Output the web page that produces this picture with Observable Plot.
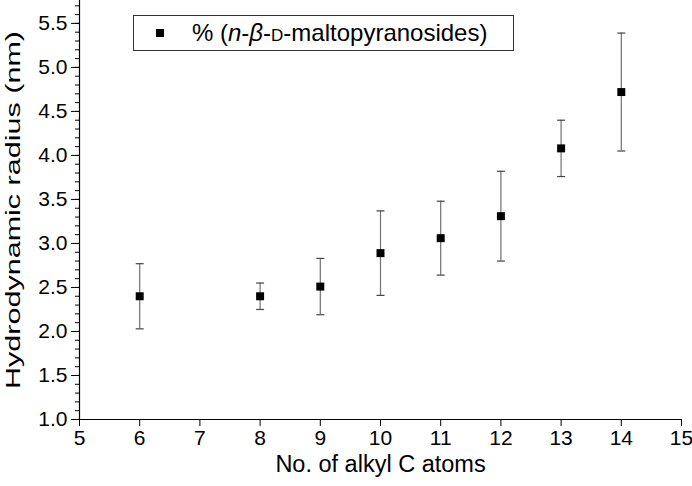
<!DOCTYPE html>
<html>
<head>
<meta charset="utf-8">
<script src="https://cdn.jsdelivr.net/npm/d3@7"></script>
<script src="https://cdn.jsdelivr.net/npm/@observablehq/plot@0.6"></script>
<style>
  html, body { margin: 0; padding: 0; background: #fff; }
  #wrap { position: relative; width: 692px; height: 486px; font-family: "Liberation Sans", Arial, sans-serif; }
  #legend { position: absolute; left: 133px; top: 15px; width: 381px; height: 36px; border: 1px solid #333; background: #fff;
            font-size: 24px; color: #000; box-sizing: border-box; }
  #legend .sw { position: absolute; left: 22px; top: 13px; width: 8px; height: 8px; background: #000; }
  #legend .tx { position: absolute; left: 58px; top: 4px; white-space: nowrap; line-height: 26px; }
</style>
</head>
<body>
<div id="wrap"></div>
<script>
// Data
const carbonAtoms = [6, 8, 9, 10, 11, 12, 13, 14];
const radius      = [2.40, 2.40, 2.51, 2.89, 3.06, 3.31, 4.08, 4.72];
const radiusError = [0.37, 0.15, 0.32, 0.48, 0.42, 0.51, 0.32, 0.67];
const xTicks = [5, 6, 7, 8, 9, 10, 11, 12, 13, 14, 15];
const yTicks = [1.0, 1.5, 2.0, 2.5, 3.0, 3.5, 4.0, 4.5, 5.0, 5.5];
const yMinorTicks = d3.range(10, 58).map(v => v / 10);
const seriesName = "% (n-β-D-maltopyranosides)";
const xTitle = "No. of alkyl C atoms";
const yTitle = "Hydrodynamic radius (nm)";

const data = carbonAtoms.map((c, i) => ({
  x: c, y: radius[i], lo: radius[i] - radiusError[i], hi: radius[i] + radiusError[i]
}));

const capSymbol = {
  draw(ctx, size) {
    const w = Math.sqrt(size / Math.PI);
    ctx.moveTo(-w, 0);
    ctx.lineTo(w, 0);
  }
};

const chart = Plot.plot({
  width: 692,
  height: 486,
  marginLeft: 79,
  marginRight: 11,
  marginTop: 0,
  marginBottom: 67,
  style: { fontFamily: "Liberation Sans, Arial, sans-serif", fontSize: "21px", color: "#000", background: "#fff" },
  x: { domain: [5, 15] },
  y: { domain: [1.0, 5.76] },
  marks: [
    Plot.axisY(yMinorTicks, { tickSize: 4, text: null, label: null, strokeWidth: 1 }),
    Plot.axisY(yTicks, { tickSize: 8, tickPadding: 4, tickFormat: d3.format(".1f"), fontSize: 21,
      label: yTitle, labelAnchor: "center", labelOffset: 74, labelArrow: "none" }),
    Plot.axisX(xTicks, { tickSize: 7, tickPadding: 4, fontSize: 21,
      label: xTitle, labelAnchor: "center", labelOffset: 52, labelArrow: "none" }),
    Plot.ruleX([5], { stroke: "#000", strokeWidth: 1.2 }),
    Plot.ruleY([1.0], { stroke: "#000", strokeWidth: 1.2 }),
    Plot.ruleX(data, { x: "x", y1: "lo", y2: "hi", stroke: "#707070", strokeWidth: 1.2 }),
    Plot.dot(data, { x: "x", y: "lo", symbol: capSymbol, r: 4, stroke: "#444", strokeWidth: 1.2 }),
    Plot.dot(data, { x: "x", y: "hi", symbol: capSymbol, r: 4, stroke: "#444", strokeWidth: 1.2 }),
    Plot.dot(data, { x: "x", y: "y", symbol: "square", r: 4.5, fill: "#000", stroke: "none" })
  ]
});

// Axis titles: larger font; y title is drawn wide as in the reference
d3.select(chart).selectAll('[aria-label="x-axis label"] text').style("font-size", "23.5px");
d3.select(chart).selectAll('[aria-label="y-axis label"] text')
  .style("font-size", "20px")
  .attr("textLength", 358)
  .attr("lengthAdjust", "spacingAndGlyphs");

const wrap = document.getElementById("wrap");
wrap.appendChild(chart);

const legend = document.createElement("div");
legend.id = "legend";
legend.innerHTML = '<div class="sw"></div><div class="tx">% (<i>n</i>-<i>β</i>-<span style="font-variant:small-caps">d</span>-maltopyranosides)</div>';
legend.setAttribute("aria-label", seriesName);
wrap.appendChild(legend);
</script>
</body>
</html>
